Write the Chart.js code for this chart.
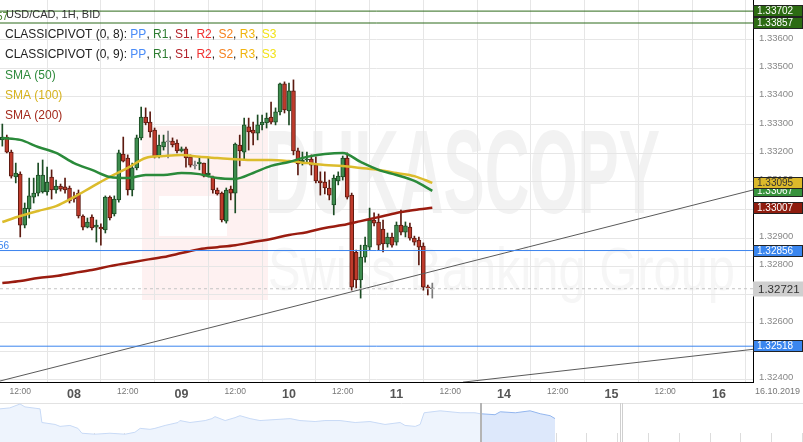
<!DOCTYPE html>
<html>
<head>
<meta charset="utf-8">
<script src="https://cdn.jsdelivr.net/npm/chart.js@4.4.1/dist/chart.umd.min.js"></script>
<style>
  html, body { margin: 0; padding: 0; background: #fff; }
  #wrap { position: relative; width: 803px; height: 442px; overflow: hidden; }
  #main { position: absolute; left: 0; top: 0; }
  #nav { position: absolute; left: 0; top: 403px; }
</style>
</head>
<body>
<div id="wrap">
  <canvas id="main" width="803" height="403"></canvas>
  <canvas id="nav" width="803" height="39"></canvas>
</div>
<script>
// hourly candles, hour 8 = 07.10 08:00 (weekend removed from the time axis)
const firstHour = 8
const opens = [1.33247,1.33257,1.33204,1.33116,1.33126,1.32946,1.33003,1.33045,1.33059,1.33063,
  1.33063,1.33116,1.33070,1.33084,1.33081,1.33077,1.33045,1.33059,1.32978,1.32939,
  1.32974,1.32939,1.32939,1.32929,1.33045,1.32985,1.33035,1.33197,1.33183,1.33070,
  1.33148,1.33254,1.33328,1.33310,1.33282,1.33190,1.33222,1.33240,1.33243,1.33236,
  1.33208,1.33215,1.33187,1.33155,1.33162,1.33165,1.33123,1.33116,1.33070,1.33059,
  1.32960,1.33073,1.33059,1.33229,1.33204,1.33293,1.33282,1.33271,1.33300,1.33307,
  1.33328,1.33310,1.33346,1.33445,1.33349,1.33420,1.33208,1.33169,1.33176,1.33179,
  1.33158,1.33102,1.33098,1.33077,1.33017,1.33102,1.33116,1.33183,1.33052,1.32851,
  1.32752,1.32833,1.32868,1.32964,1.32957,1.32932,1.32879,1.32904,1.32886,1.32946,
  1.32921,1.32939,1.32900,1.32893,1.32872,1.32727,1.32721]
const highs = [1.33303,1.33264,1.33211,1.33165,1.33134,1.33024,1.33112,1.33112,1.33165,1.33176,
  1.33151,1.33141,1.33105,1.33091,1.33112,1.33084,1.33063,1.33070,1.32982,1.32971,
  1.32982,1.32964,1.32950,1.33049,1.33049,1.33049,1.33211,1.33257,1.33194,1.33165,
  1.33264,1.33363,1.33360,1.33346,1.33289,1.33264,1.33264,1.33278,1.33254,1.33247,
  1.33222,1.33222,1.33194,1.33172,1.33183,1.33165,1.33183,1.33119,1.33077,1.33063,
  1.33077,1.33084,1.33236,1.33264,1.33324,1.33324,1.33310,1.33335,1.33335,1.33342,
  1.33381,1.33360,1.33448,1.33452,1.33448,1.33459,1.33218,1.33204,1.33204,1.33194,
  1.33187,1.33134,1.33134,1.33105,1.33123,1.33134,1.33190,1.33201,1.33059,1.32858,
  1.32875,1.32904,1.33006,1.32989,1.32985,1.32964,1.32918,1.32918,1.32957,1.32999,
  1.32957,1.32953,1.32907,1.32904,1.32883,1.32734,1.32741]
const lows = [1.33225,1.33201,1.33112,1.33095,1.32904,1.32936,1.32971,1.33024,1.33049,1.33059,
  1.33052,1.33038,1.33059,1.33066,1.33059,1.33024,1.33027,1.32971,1.32929,1.32936,
  1.32929,1.32886,1.32875,1.32918,1.32964,1.32978,1.33027,1.33169,1.33052,1.33049,
  1.33141,1.33247,1.33300,1.33257,1.33183,1.33183,1.33211,1.33183,1.33222,1.33201,
  1.33204,1.33151,1.33151,1.33144,1.33141,1.33116,1.33116,1.33059,1.33052,1.32957,
  1.32953,1.33035,1.32989,1.33155,1.33176,1.33211,1.33229,1.33247,1.33282,1.33289,
  1.33303,1.33300,1.33335,1.33342,1.33300,1.33194,1.33123,1.33158,1.33165,1.33123,
  1.33095,1.33052,1.33056,1.33035,1.32982,1.33088,1.33105,1.33038,1.32716,1.32724,
  1.32688,1.32815,1.32858,1.32943,1.32858,1.32851,1.32868,1.32868,1.32875,1.32911,
  1.32904,1.32893,1.32875,1.32805,1.32716,1.32699,1.32688]
const closes = [1.33257,1.33204,1.33119,1.33130,1.32946,1.33006,1.33049,1.33059,1.33123,1.33123,
  1.33098,1.33070,1.33084,1.33073,1.33070,1.33031,1.33038,1.32978,1.32939,1.32957,
  1.32936,1.32946,1.32932,1.33045,1.32971,1.33038,1.33201,1.33172,1.33070,1.33148,
  1.33254,1.33328,1.33307,1.33275,1.33187,1.33229,1.33240,1.33240,1.33229,1.33208,
  1.33215,1.33183,1.33158,1.33155,1.33169,1.33119,1.33130,1.33070,1.33056,1.32964,
  1.33070,1.33059,1.33232,1.33208,1.33300,1.33275,1.33271,1.33300,1.33310,1.33324,
  1.33310,1.33346,1.33445,1.33353,1.33420,1.33208,1.33162,1.33176,1.33179,1.33158,
  1.33102,1.33095,1.33077,1.33052,1.33112,1.33119,1.33183,1.33045,1.32727,1.32752,
  1.32833,1.32875,1.32964,1.32953,1.32875,1.32879,1.32904,1.32875,1.32946,1.32921,
  1.32943,1.32900,1.32886,1.32868,1.32727,1.32724,1.32721]

// moving averages, read every 4 hours
const smaHours = [8,12,16,20,24,28,32,36,40,44,48,52,56,60,64,68,72,76,80,84,88,92,96,100,104]
const sma50 = [1.33254,1.33247,1.33222,1.33201,1.33165,1.33141,1.33116,1.33112,1.33123,1.33123,
  1.33130,1.33126,1.33112,1.33109,1.33130,1.33155,1.33169,1.33187,1.33197,1.33201,
  1.33169,1.33141,1.33123,1.33102,1.33067]
const sma100 = [1.32957,1.32978,1.32996,1.33013,1.33045,1.33081,1.33116,1.33148,1.33183,1.33190,
  1.33194,1.33187,1.33183,1.33179,1.33176,1.33176,1.33172,1.33165,1.33158,1.33155,
  1.33148,1.33141,1.33130,1.33119,1.33095]
const sma200 = [1.32741,1.32748,1.32759,1.32766,1.32777,1.32787,1.32801,1.32812,1.32823,1.32833,
  1.32847,1.32861,1.32868,1.32875,1.32886,1.32897,1.32911,1.32921,1.32936,1.32946,
  1.32960,1.32974,1.32989,1.32999,1.33007]

// axes
const xMin = 7.48
const xMax = 175.6
const tickHours = [12,24,36,48,60,72,84,96,108,120,132,144,156,168]
const tickLabels = ["12:00","08","12:00","09","12:00","10","12:00","11","12:00","14","12:00","15","12:00","16"]
const yMin = 1.323915
const yMax = 1.337413
const yTicks = [1.324,1.325,1.326,1.327,1.328,1.329,1.330,1.331,1.332,1.333,1.334,1.335,1.336]

// pivot levels and trend lines
const levelValues = [1.33702, 1.33660, 1.32856, 1.32518]
const levelColors = ["#2d6a1a", "#2d6a1a", "#3b84ee", "#3b84ee"]
const lastPrice = 1.32721
const trendA = [[7.48, 1.32395], [175.6, 1.33070]]
const trendB = [[110.85, 1.32391], [175.6, 1.32507]]

// price tags on the right
const tagValues = [1.33702, 1.33660, 1.33067, 1.33095, 1.33007, 1.32856, 1.32721, 1.32518]
const tagTexts = ["1.33702", "1.33857", "1.33067", "1.33095", "1.33007", "1.32856", "1.32721", "1.32518"]
const tagColors = ["#2c6b12", "#2c6b12", "#37923c", "#dcb92b", "#8e1c0e", "#3a86ee", "#cfcfcf", "#3a86ee"]
const tagInk = ["#fff", "#fff", "#fff", "#333", "#fff", "#fff", "#333", "#fff"]

const pivotNames = ["PP", "R1", "S1", "R2", "S2", "R3", "S3"]
const pivotColors = ["#4a8cf7", "#2e7d32", "#b2222a", "#f03030", "#f58220", "#f0b40f", "#f2e21a"]

// navigator
const navX = [-0.04,0.28,0.61,0.77,1.26,1.32,1.75,1.91,2.23,2.49,2.62,3.04,3.53,4.02,4.34,4.51,4.83,4.99,5.32,5.74,
  5.80,6.13,6.62,6.84,6.94,7.27,7.59,7.75,8.08,8.40,8.89,9.38,9.70,10.19,10.51,11.00,11.49,11.97,12.46,12.95,
  13.11,13.44,13.60,13.73,14.25,14.90,15.38,15.55,16.03,16.20,16.69,17.17,17.50,17.82,17.98]
const navY = [34,35,39,36,34,20,18,16,17,14,9,8,9,8,10,14,13,14,17,20,
  22,20,22,24,26,22,25,27,24,22,23,24,22,21,22,22,20,21,18,20,
  17,16,18,30,32,30,30,29,28,31,30,32,29,27,24]
const navSplit = 15.55
const navHandles = [15.55, 20.09]

Chart.defaults.font.family = "'Liberation Sans', Arial, sans-serif"
Chart.defaults.animation = false

const FONT = "'Liberation Sans', Arial, sans-serif"
const hours = opens.map((_, i) => firstHour + i)
const dir = opens.map((o, i) => Math.sign(closes[i] - o))
const bodyFill = dir.map(d => d > 0 ? "#3d8c4e" : d < 0 ? "#bf3a2b" : "#9a9a9a")
const bodyLine = dir.map(d => d > 0 ? "#1c4c24" : d < 0 ? "#5c1a10" : "#7a7a7a")

const hLine = (v, color, dash) => ({
  type: "line",
  data: [{ x: xMin, y: v }, { x: xMax, y: v }],
  borderColor: color, borderWidth: 1, borderDash: dash || [],
  pointRadius: 0, order: 0
})

const watermark = {
  id: "watermark",
  beforeDraw(chart) {
    const ctx = chart.ctx
    ctx.save()
    ctx.fillStyle = "#fef1f1"
    ctx.fillRect(142, 126, 126, 174)
    ctx.fillStyle = "#ffffff"
    ctx.fillRect(159, 196, 68, 40)
    const fit = (text, x, y, w, font, color) => {
      ctx.font = font
      const m = ctx.measureText(text).width
      ctx.save()
      ctx.translate(x, y)
      ctx.scale(w / m, 1)
      ctx.fillStyle = color
      ctx.textBaseline = "alphabetic"
      ctx.fillText(text, 0, 0)
      ctx.restore()
    }
    fit("DUKASCOPY", 265, 213, 395, "bold 118px " + FONT, "#f2f2f2")
    fit("Swiss Banking Group", 268, 290, 467, "62px " + FONT, "#f6f6f6")
    ctx.restore()
  }
}

const overlay = {
  id: "overlay",
  afterDraw(chart) {
    const ctx = chart.ctx
    const y = chart.scales.y
    const area = chart.chartArea
    ctx.save()
    ctx.textBaseline = "middle"

    // tags
    tagValues.forEach((v, k) => {
      const py = Math.round(y.getPixelForValue(v))
      const big = tagTexts[k] === "1.32721"
      const h = big ? 15 : 12
      ctx.fillStyle = tagColors[k]
      ctx.fillRect(area.right, py - h / 2, 50, h)
      if (!big) {
        ctx.strokeStyle = "#222"
        ctx.lineWidth = 1
        ctx.strokeRect(area.right + 0.5, py - h / 2 + 0.5, 49, h - 1)
      }
      ctx.fillStyle = tagInk[k]
      ctx.font = (big ? "11.5px " : "10px ") + FONT
      ctx.textAlign = "left"
      ctx.fillText(tagTexts[k], area.right + (big ? 5 : 4), py + 0.5)
    })

    // legend
    const parts = (x, py, list, size) => {
      ctx.font = size + "px " + FONT
      ctx.textAlign = "left"
      list.forEach(([t, c]) => {
        ctx.fillStyle = c
        ctx.fillText(t, x, py)
        x += ctx.measureText(t).width
      })
    }
    const pivotRow = (label) => {
      const row = [[label, "#222"]]
      pivotNames.forEach((n, k) => {
        row.push([n, pivotColors[k]])
        if (k < pivotNames.length - 1) row.push([", ", "#222"])
      })
      return row
    }
    parts(6, 15, [["USD/CAD, 1H, BID", "#333"]], 11)
    parts(5, 35, pivotRow("CLASSICPIVOT (0, 8): "), 12)
    parts(5, 55, pivotRow("CLASSICPIVOT (0, 9): "), 12)
    parts(5, 76, [["SMA (50)", "#2f8a3c"]], 12)
    parts(5, 96, [["SMA (100)", "#d6b21e"]], 12)
    parts(5, 116, [["SMA (200)", "#a3291b"]], 12)

    // cut pivot labels on the left edge
    ctx.font = "10px " + FONT
    ctx.textAlign = "right"
    ctx.fillStyle = "#3a7a1a"
    ctx.fillText("1.33857", 8, 17)
    ctx.fillStyle = "#3b84ee"
    ctx.fillText("1.32856", 9, y.getPixelForValue(levelValues[2]) - 4)

    // date under the price axis
    ctx.font = "9px " + FONT
    ctx.textAlign = "left"
    ctx.fillStyle = "#777"
    ctx.fillText("16.10.2019", area.right + 2, area.bottom + 10)
    ctx.restore()
  }
}

new Chart(document.getElementById("main"), {
  type: "bar",
  data: {
    datasets: [
      { type: "line", data: smaHours.map((h, k) => ({ x: h, y: sma50[k] })), borderColor: "#2a8a3a", borderWidth: 2.5, pointRadius: 0, cubicInterpolationMode: "monotone", order: 1 },
      { type: "line", data: smaHours.map((h, k) => ({ x: h, y: sma100[k] })), borderColor: "#dcbc2c", borderWidth: 2.5, pointRadius: 0, cubicInterpolationMode: "monotone", order: 2 },
      { type: "line", data: smaHours.map((h, k) => ({ x: h, y: sma200[k] })), borderColor: "#9a1c10", borderWidth: 2.5, pointRadius: 0, cubicInterpolationMode: "monotone", order: 3 },
      ...levelValues.map((v, k) => hLine(v, levelColors[k])),
      hLine(lastPrice, "#c4c4c4", [3, 3]),
      { type: "line", data: trendA.map(p => ({ x: p[0], y: p[1] })), borderColor: "#5a5a5a", borderWidth: 1, pointRadius: 0, order: 0 },
      { type: "line", data: trendB.map(p => ({ x: p[0], y: p[1] })), borderColor: "#5a5a5a", borderWidth: 1, pointRadius: 0, order: 0 },
      {
        data: hours.map((h, i) => ({ x: h, y: [lows[i], highs[i]] })),
        backgroundColor: bodyLine, barThickness: 1, grouped: false, order: 6
      },
      {
        data: hours.map((h, i) => ({ x: h, y: [opens[i], closes[i]] })),
        backgroundColor: bodyFill, borderColor: bodyLine, borderWidth: 1, borderSkipped: false,
        barThickness: 4, minBarLength: 1, grouped: false, order: 5
      }
    ]
  },
  options: {
    responsive: false,
    layout: { padding: 0 },
    plugins: { legend: { display: false }, tooltip: { enabled: false } },
    scales: {
      x: {
        type: "linear", min: xMin, max: xMax, offset: false,
        afterBuildTicks: s => { s.ticks = tickHours.map(v => ({ value: v })) },
        afterFit: s => { s.height = 21; s.paddingLeft = 0; s.paddingRight = 0 },
        grid: { color: "#e6e6e6", drawTicks: false },
        border: { color: "#000", width: 1 },
        ticks: {
          autoSkip: false, maxRotation: 0, padding: 5,
          callback: (v, i) => tickLabels[i],
          color: c => c.index % 2 ? "#555" : "#777",
          font: c => c.index % 2 ? { size: 12.5, weight: "bold" } : { size: 8.5 }
        }
      },
      y: {
        position: "right", min: yMin, max: yMax,
        afterBuildTicks: s => { s.ticks = yTicks.map(v => ({ value: v })) },
        afterFit: s => { s.width = 50; s.paddingTop = 0; s.paddingBottom = 0 },
        grid: { color: "#e6e6e6", drawTicks: false },
        border: { color: "#000", width: 1 },
        ticks: { autoSkip: false, padding: 6, color: "#888", font: { size: 9.5 }, labelOffset: -2, callback: v => v.toFixed(5) }
      }
    }
  },
  plugins: [watermark, overlay]
})

const navDeco = {
  id: "navDeco",
  beforeDatasetsDraw(chart) {
    const ctx = chart.ctx
    const x = chart.scales.x
    const a = chart.chartArea
    ctx.save()
    ctx.strokeStyle = "#e2e2e2"
    ctx.lineWidth = 1
    ctx.beginPath()
    ctx.moveTo(0, 0.5); ctx.lineTo(a.right, 0.5)
    ctx.stroke()
    ctx.strokeStyle = "#dcdcdc"
    for (let t = 1; t <= 26; t++) {
      const px = Math.round(x.getPixelForValue(t)) + 0.5
      ctx.beginPath(); ctx.moveTo(px, a.bottom - 9); ctx.lineTo(px, a.bottom); ctx.stroke()
    }
    ctx.restore()
  },
  afterDatasetsDraw(chart) {
    const ctx = chart.ctx
    const x = chart.scales.x
    const a = chart.chartArea
    ctx.save()
    const h0 = Math.round(x.getPixelForValue(navHandles[0]))
    ctx.fillStyle = "#b4b4b4"
    ctx.fillRect(h0, 0, 2, a.bottom)
    const h1 = Math.round(x.getPixelForValue(navHandles[1]))
    ctx.fillStyle = "#cfcfcf"
    ctx.fillRect(h1, 0, 1, a.bottom)
    ctx.fillRect(h1 + 2, 0, 1, a.bottom)
    ctx.restore()
  }
}

const navPts = navX.map((v, k) => ({ x: v, y: navY[k] }))
new Chart(document.getElementById("nav"), {
  type: "line",
  data: {
    datasets: [
      { data: navPts.filter(p => p.x <= navSplit), borderColor: "#c8daf6", backgroundColor: "#eef4fd", borderWidth: 1, pointRadius: 0, fill: "start", tension: 0 },
      { data: navPts.filter(p => p.x >= navSplit), borderColor: "#93b6ee", backgroundColor: "#dde8fb", borderWidth: 1, pointRadius: 0, fill: "start", tension: 0 }
    ]
  },
  options: {
    responsive: false,
    layout: { padding: 0 },
    plugins: { legend: { display: false }, tooltip: { enabled: false } },
    scales: {
      x: { type: "linear", min: -0.04, max: 26.03, display: false },
      y: { min: 0, max: 40, display: false }
    }
  },
  plugins: [navDeco]
})
</script>
</body>
</html>
